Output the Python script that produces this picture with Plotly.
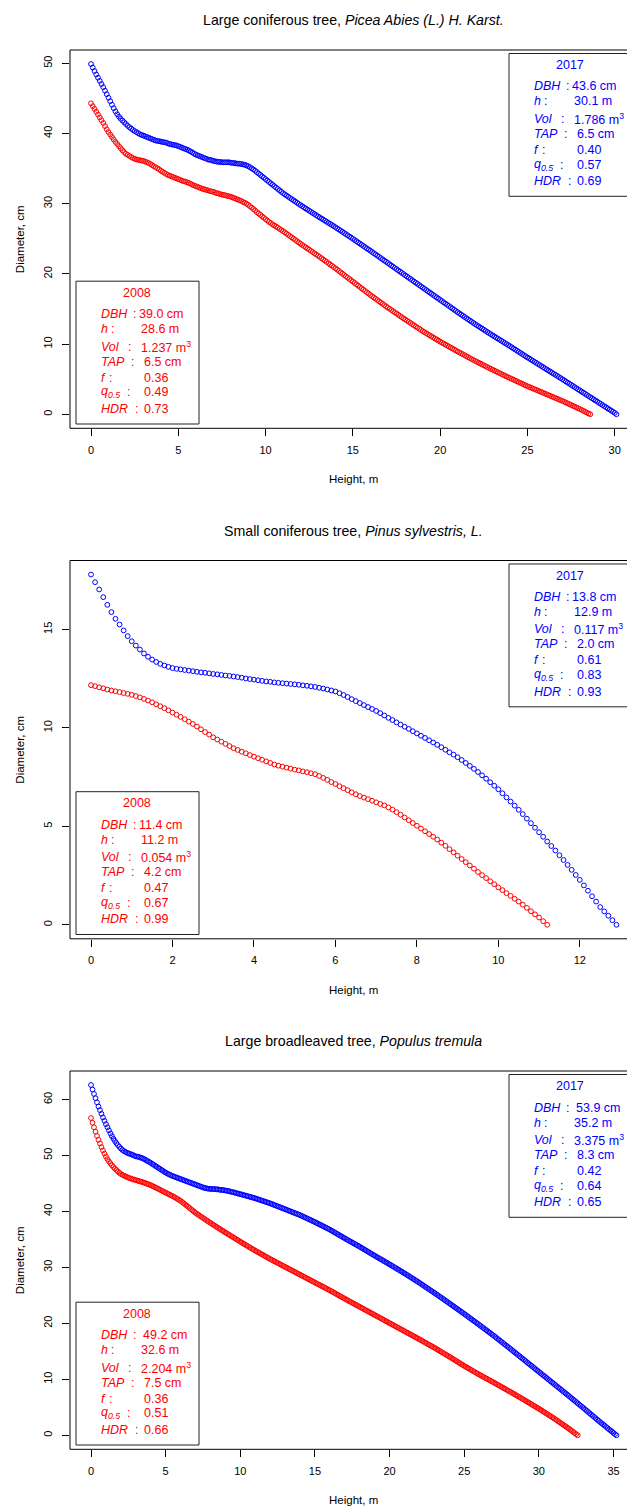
import plotly.graph_objects as go

W, H = 627, 1506
HEIGHT_STEP = 0.1  # stem profile sampling step along the height, m

# ---------------- data: stem diameters (cm) every 0.1 m from the ground ----------------
SPRUCE_2017 = [
    49.9, 49.4, 48.9, 48.4, 47.95, 47.5, 47.05, 46.6, 46.1, 45.6,
    45.1, 44.6, 44.1, 43.6, 43.15, 42.75, 42.4, 42.1, 41.85, 41.6,
    41.35, 41.1, 40.9, 40.7, 40.5, 40.35, 40.2, 40.05, 39.9, 39.8,
    39.7, 39.6, 39.5, 39.4, 39.3, 39.2, 39.1, 39.0, 38.95, 38.9,
    38.85, 38.8, 38.75, 38.7, 38.6, 38.5, 38.45, 38.4, 38.35, 38.3,
    38.2, 38.1, 38.0, 37.9, 37.8, 37.7, 37.6, 37.45, 37.3, 37.15,
    37.0, 36.9, 36.8, 36.7, 36.6, 36.5, 36.4, 36.3, 36.25, 36.2,
    36.1, 36.05, 36.0, 35.95, 35.95, 35.9, 35.9, 35.9, 35.9, 35.9,
    35.85, 35.8, 35.8, 35.75, 35.7, 35.7, 35.65, 35.6, 35.55, 35.45,
    35.35, 35.2, 35.05, 34.9, 34.7, 34.5, 34.3, 34.1, 33.9, 33.7,
    33.5, 33.3, 33.1, 32.9, 32.7, 32.5, 32.3, 32.1, 31.9, 31.7,
    31.5, 31.33, 31.16, 30.99, 30.82, 30.65, 30.48, 30.31, 30.14, 29.97,
    29.8, 29.64, 29.48, 29.32, 29.16, 29.0, 28.84, 28.68, 28.52, 28.36,
    28.2, 28.05, 27.89, 27.74, 27.58, 27.43, 27.27, 27.12, 26.96, 26.81,
    26.65, 26.49, 26.32, 26.16, 25.99, 25.83, 25.66, 25.5, 25.33, 25.17,
    25.0, 24.83, 24.66, 24.49, 24.32, 24.15, 23.98, 23.81, 23.64, 23.47,
    23.3, 23.13, 22.95, 22.78, 22.6, 22.43, 22.25, 22.08, 21.9, 21.73,
    21.55, 21.38, 21.2, 21.03, 20.85, 20.68, 20.5, 20.33, 20.15, 19.98,
    19.8, 19.63, 19.45, 19.28, 19.1, 18.93, 18.75, 18.58, 18.4, 18.23,
    18.05, 17.88, 17.7, 17.53, 17.35, 17.18, 17.0, 16.83, 16.65, 16.48,
    16.3, 16.13, 15.95, 15.78, 15.6, 15.43, 15.25, 15.08, 14.9, 14.73,
    14.55, 14.38, 14.21, 14.04, 13.87, 13.7, 13.53, 13.36, 13.19, 13.02,
    12.85, 12.69, 12.53, 12.37, 12.21, 12.05, 11.89, 11.73, 11.57, 11.41,
    11.25, 11.1, 10.94, 10.79, 10.63, 10.48, 10.32, 10.17, 10.01, 9.86,
    9.7, 9.54, 9.38, 9.22, 9.06, 8.9, 8.74, 8.58, 8.42, 8.26,
    8.1, 7.95, 7.79, 7.64, 7.48, 7.33, 7.17, 7.02, 6.86, 6.71,
    6.55, 6.4, 6.24, 6.09, 5.93, 5.78, 5.62, 5.47, 5.31, 5.16,
    5.0, 4.84, 4.68, 4.52, 4.36, 4.2, 4.04, 3.88, 3.72, 3.56,
    3.4, 3.24, 3.08, 2.92, 2.76, 2.6, 2.44, 2.28, 2.12, 1.96,
    1.8, 1.64, 1.48, 1.32, 1.16, 1.0, 0.84, 0.68, 0.52, 0.36,
    0.2, 0.0,
]
SPRUCE_2008 = [
    44.3, 43.9, 43.5, 43.1, 42.7, 42.3, 41.9, 41.5, 41.05, 40.6,
    40.2, 39.85, 39.5, 39.15, 38.8, 38.5, 38.2, 37.9, 37.6, 37.35,
    37.1, 36.95, 36.8, 36.65, 36.5, 36.4, 36.3, 36.25, 36.2, 36.15,
    36.1, 36.0, 35.9, 35.8, 35.65, 35.5, 35.35, 35.2, 35.05, 34.9,
    34.7, 34.55, 34.4, 34.25, 34.1, 34.0, 33.9, 33.8, 33.7, 33.6,
    33.5, 33.4, 33.3, 33.2, 33.15, 33.05, 32.95, 32.85, 32.7, 32.6,
    32.5, 32.4, 32.3, 32.2, 32.1, 32.05, 31.95, 31.9, 31.8, 31.75,
    31.7, 31.6, 31.5, 31.45, 31.35, 31.3, 31.25, 31.2, 31.1, 31.05,
    31.0, 30.9, 30.8, 30.7, 30.6, 30.5, 30.4, 30.25, 30.15, 30.0,
    29.85, 29.65, 29.45, 29.25, 29.05, 28.8, 28.6, 28.4, 28.2, 28.0,
    27.8, 27.6, 27.4, 27.25, 27.05, 26.9, 26.75, 26.6, 26.4, 26.25,
    26.1, 25.92, 25.74, 25.56, 25.38, 25.2, 25.02, 24.84, 24.66, 24.48,
    24.3, 24.13, 23.96, 23.79, 23.62, 23.45, 23.28, 23.11, 22.94, 22.77,
    22.6, 22.42, 22.24, 22.06, 21.88, 21.7, 21.52, 21.34, 21.16, 20.98,
    20.8, 20.61, 20.42, 20.23, 20.04, 19.85, 19.66, 19.47, 19.28, 19.09,
    18.9, 18.71, 18.52, 18.33, 18.14, 17.95, 17.76, 17.57, 17.38, 17.19,
    17.0, 16.82, 16.64, 16.46, 16.28, 16.1, 15.92, 15.74, 15.56, 15.38,
    15.2, 15.03, 14.86, 14.69, 14.52, 14.35, 14.18, 14.01, 13.84, 13.67,
    13.5, 13.34, 13.17, 13.01, 12.84, 12.68, 12.51, 12.35, 12.18, 12.02,
    11.85, 11.7, 11.55, 11.4, 11.25, 11.1, 10.95, 10.8, 10.65, 10.5,
    10.35, 10.21, 10.07, 9.93, 9.79, 9.65, 9.51, 9.37, 9.23, 9.09,
    8.95, 8.82, 8.68, 8.55, 8.41, 8.28, 8.14, 8.01, 7.87, 7.74,
    7.6, 7.48, 7.35, 7.23, 7.1, 6.98, 6.85, 6.73, 6.6, 6.48,
    6.35, 6.23, 6.11, 5.99, 5.87, 5.75, 5.63, 5.51, 5.39, 5.27,
    5.15, 5.04, 4.92, 4.81, 4.69, 4.58, 4.46, 4.35, 4.23, 4.12,
    4.0, 3.9, 3.79, 3.69, 3.58, 3.48, 3.37, 3.27, 3.16, 3.06,
    2.95, 2.85, 2.74, 2.64, 2.53, 2.43, 2.32, 2.22, 2.11, 2.01,
    1.9, 1.79, 1.67, 1.56, 1.44, 1.33, 1.21, 1.1, 0.98, 0.87,
    0.75, 0.63, 0.5, 0.37, 0.25, 0.12, 0.0,
]
PINE_2017 = [
    17.79, 17.40, 17.03, 16.64, 16.25, 15.88, 15.54, 15.25, 14.95, 14.66,
    14.40, 14.18, 13.98, 13.78, 13.61, 13.47, 13.35, 13.25, 13.17, 13.10,
    13.04, 13.0, 12.97, 12.94, 12.91, 12.88, 12.85, 12.82, 12.8, 12.77,
    12.74, 12.72, 12.69, 12.66, 12.64, 12.61, 12.58, 12.55, 12.51, 12.48,
    12.45, 12.42, 12.39, 12.36, 12.34, 12.31, 12.29, 12.27, 12.25, 12.23,
    12.21, 12.19, 12.16, 12.14, 12.11, 12.08, 12.04, 12.0, 11.95, 11.9,
    11.85, 11.76, 11.67, 11.57, 11.46, 11.36, 11.26, 11.16, 11.06, 10.96,
    10.86, 10.75, 10.63, 10.51, 10.4, 10.28, 10.17, 10.06, 9.95, 9.83,
    9.72, 9.6, 9.49, 9.37, 9.26, 9.14, 9.02, 8.89, 8.76, 8.64,
    8.51, 8.37, 8.22, 8.07, 7.92, 7.76, 7.59, 7.42, 7.24, 7.06,
    6.88, 6.68, 6.47, 6.26, 6.05, 5.84, 5.62, 5.39, 5.16, 4.93,
    4.7, 4.47, 4.23, 4.0, 3.77, 3.53, 3.29, 3.04, 2.79, 2.53,
    2.28, 2.0, 1.73, 1.45, 1.18, 0.9, 0.68, 0.46, 0.23, 0.0,
]
PINE_2008 = [
    12.17, 12.12, 12.06, 12.01, 11.95, 11.9, 11.86, 11.82, 11.77, 11.73,
    11.68, 11.62, 11.55, 11.47, 11.39, 11.3, 11.2, 11.1, 11.0, 10.89,
    10.78, 10.67, 10.56, 10.44, 10.32, 10.2, 10.07, 9.93, 9.79, 9.66,
    9.52, 9.41, 9.3, 9.19, 9.08, 8.97, 8.88, 8.79, 8.71, 8.62,
    8.54, 8.46, 8.38, 8.3, 8.22, 8.14, 8.08, 8.03, 7.98, 7.93,
    7.88, 7.84, 7.79, 7.75, 7.7, 7.65, 7.56, 7.46, 7.36, 7.25,
    7.15, 7.04, 6.94, 6.84, 6.73, 6.63, 6.54, 6.46, 6.38, 6.3,
    6.22, 6.14, 6.06, 5.96, 5.85, 5.72, 5.59, 5.45, 5.31, 5.17,
    5.03, 4.89, 4.75, 4.61, 4.47, 4.33, 4.17, 4.01, 3.84, 3.68,
    3.51, 3.34, 3.18, 3.01, 2.85, 2.68, 2.52, 2.37, 2.21, 2.06,
    1.9, 1.76, 1.61, 1.47, 1.32, 1.18, 1.02, 0.86, 0.69, 0.53,
    0.37, 0.18, 0.0,
]
ASPEN_2017 = [
    62.6, 61.8, 61.0, 60.25, 59.5, 58.75, 58.1, 57.45, 56.8, 56.2,
    55.6, 55.05, 54.5, 53.95, 53.45, 53.0, 52.6, 52.2, 51.85, 51.55,
    51.25, 51.0, 50.8, 50.65, 50.5, 50.4, 50.3, 50.2, 50.1, 49.95,
    49.85, 49.8, 49.75, 49.65, 49.55, 49.45, 49.3, 49.15, 49.0, 48.85,
    48.7, 48.5, 48.35, 48.15, 48.0, 47.8, 47.65, 47.45, 47.3, 47.1,
    46.95, 46.8, 46.65, 46.55, 46.4, 46.3, 46.2, 46.1, 46.0, 45.9,
    45.8, 45.7, 45.6, 45.5, 45.4, 45.3, 45.2, 45.1, 45.0, 44.9,
    44.8, 44.7, 44.6, 44.5, 44.4, 44.3, 44.2, 44.15, 44.1, 44.05,
    44.05, 44.0, 44.0, 44.0, 43.95, 43.95, 43.9, 43.85, 43.85, 43.8,
    43.75, 43.7, 43.65, 43.6, 43.5, 43.45, 43.4, 43.3, 43.25, 43.15,
    43.1, 43.03, 42.95, 42.88, 42.8, 42.73, 42.65, 42.58, 42.5, 42.43,
    42.35, 42.26, 42.17, 42.08, 41.99, 41.9, 41.81, 41.72, 41.63, 41.54,
    41.45, 41.35, 41.24, 41.14, 41.03, 40.93, 40.82, 40.72, 40.61, 40.51,
    40.4, 40.3, 40.19, 40.09, 39.98, 39.88, 39.77, 39.67, 39.56, 39.46,
    39.35, 39.23, 39.1, 38.98, 38.85, 38.73, 38.6, 38.48, 38.35, 38.23,
    38.1, 37.97, 37.83, 37.7, 37.56, 37.43, 37.29, 37.16, 37.02, 36.89,
    36.75, 36.6, 36.44, 36.29, 36.13, 35.98, 35.82, 35.67, 35.51, 35.36,
    35.2, 35.05, 34.9, 34.75, 34.6, 34.45, 34.3, 34.15, 34.0, 33.85,
    33.7, 33.54, 33.38, 33.22, 33.06, 32.9, 32.74, 32.58, 32.42, 32.26,
    32.1, 31.95, 31.79, 31.64, 31.48, 31.33, 31.17, 31.02, 30.86, 30.71,
    30.55, 30.39, 30.23, 30.07, 29.91, 29.75, 29.59, 29.43, 29.27, 29.11,
    28.95, 28.78, 28.61, 28.44, 28.27, 28.1, 27.93, 27.76, 27.59, 27.42,
    27.25, 27.07, 26.89, 26.71, 26.53, 26.35, 26.17, 25.99, 25.81, 25.63,
    25.45, 25.27, 25.08, 24.9, 24.71, 24.53, 24.34, 24.16, 23.97, 23.79,
    23.6, 23.41, 23.22, 23.03, 22.84, 22.65, 22.46, 22.27, 22.08, 21.89,
    21.7, 21.51, 21.31, 21.12, 20.92, 20.73, 20.53, 20.34, 20.14, 19.95,
    19.75, 19.55, 19.35, 19.15, 18.95, 18.75, 18.55, 18.35, 18.15, 17.95,
    17.75, 17.54, 17.33, 17.12, 16.91, 16.7, 16.49, 16.28, 16.07, 15.86,
    15.65, 15.44, 15.22, 15.01, 14.79, 14.58, 14.36, 14.15, 13.93, 13.72,
    13.5, 13.29, 13.07, 12.86, 12.64, 12.43, 12.21, 12.0, 11.78, 11.57,
    11.35, 11.14, 10.92, 10.71, 10.49, 10.28, 10.06, 9.85, 9.63, 9.42,
    9.2, 8.99, 8.77, 8.56, 8.34, 8.13, 7.91, 7.7, 7.48, 7.27,
    7.05, 6.83, 6.61, 6.39, 6.17, 5.95, 5.73, 5.51, 5.29, 5.07,
    4.85, 4.63, 4.4, 4.18, 3.95, 3.73, 3.5, 3.28, 3.05, 2.83,
    2.6, 2.38, 2.16, 1.95, 1.73, 1.51, 1.29, 1.07, 0.86, 0.64,
    0.42, 0.2, 0.0,
]
ASPEN_2008 = [
    56.7, 55.85, 55.05, 54.25, 53.5, 52.8, 52.15, 51.5, 50.9, 50.35,
    49.8, 49.35, 48.95, 48.6, 48.25, 47.95, 47.65, 47.4, 47.15, 46.9,
    46.7, 46.55, 46.4, 46.3, 46.15, 46.05, 45.95, 45.85, 45.75, 45.7,
    45.6, 45.52, 45.44, 45.36, 45.28, 45.2, 45.1, 45.0, 44.9, 44.8,
    44.7, 44.57, 44.44, 44.31, 44.18, 44.05, 43.91, 43.77, 43.63, 43.49,
    43.35, 43.22, 43.09, 42.96, 42.83, 42.7, 42.54, 42.38, 42.22, 42.06,
    41.9, 41.69, 41.48, 41.27, 41.06, 40.85, 40.63, 40.41, 40.19, 39.97,
    39.75, 39.57, 39.39, 39.21, 39.03, 38.85, 38.67, 38.49, 38.31, 38.13,
    37.95, 37.78, 37.61, 37.44, 37.27, 37.1, 36.93, 36.76, 36.59, 36.42,
    36.25, 36.09, 35.92, 35.76, 35.59, 35.43, 35.26, 35.1, 34.93, 34.77,
    34.6, 34.44, 34.28, 34.12, 33.96, 33.8, 33.64, 33.48, 33.32, 33.16,
    33.0, 32.85, 32.7, 32.55, 32.4, 32.25, 32.1, 31.95, 31.8, 31.65,
    31.5, 31.36, 31.22, 31.08, 30.94, 30.8, 30.66, 30.52, 30.38, 30.24,
    30.1, 29.96, 29.82, 29.68, 29.54, 29.4, 29.26, 29.12, 28.98, 28.84,
    28.7, 28.56, 28.42, 28.28, 28.14, 28.0, 27.86, 27.72, 27.58, 27.44,
    27.3, 27.16, 27.02, 26.88, 26.74, 26.6, 26.46, 26.32, 26.18, 26.04,
    25.9, 25.75, 25.6, 25.45, 25.3, 25.15, 25.0, 24.85, 24.7, 24.55,
    24.4, 24.26, 24.11, 23.97, 23.82, 23.68, 23.53, 23.39, 23.24, 23.1,
    22.95, 22.81, 22.66, 22.52, 22.37, 22.23, 22.08, 21.94, 21.79, 21.65,
    21.5, 21.36, 21.21, 21.07, 20.92, 20.78, 20.63, 20.49, 20.34, 20.2,
    20.05, 19.91, 19.76, 19.62, 19.47, 19.33, 19.18, 19.04, 18.89, 18.75,
    18.6, 18.46, 18.31, 18.17, 18.02, 17.88, 17.73, 17.59, 17.44, 17.3,
    17.15, 17.0, 16.85, 16.7, 16.55, 16.4, 16.25, 16.1, 15.95, 15.8,
    15.65, 15.49, 15.33, 15.17, 15.01, 14.85, 14.69, 14.53, 14.37, 14.21,
    14.05, 13.89, 13.72, 13.56, 13.39, 13.23, 13.06, 12.9, 12.73, 12.57,
    12.4, 12.25, 12.09, 11.94, 11.78, 11.63, 11.47, 11.32, 11.16, 11.01,
    10.85, 10.71, 10.56, 10.42, 10.27, 10.13, 9.98, 9.84, 9.69, 9.55,
    9.4, 9.25, 9.1, 8.95, 8.8, 8.65, 8.5, 8.35, 8.2, 8.05,
    7.9, 7.75, 7.59, 7.44, 7.28, 7.13, 6.97, 6.82, 6.66, 6.51,
    6.35, 6.19, 6.03, 5.87, 5.71, 5.55, 5.39, 5.23, 5.07, 4.91,
    4.75, 4.58, 4.41, 4.24, 4.07, 3.9, 3.73, 3.56, 3.39, 3.22,
    3.05, 2.87, 2.68, 2.5, 2.31, 2.13, 1.94, 1.76, 1.57, 1.39,
    1.2, 1.0, 0.8, 0.6, 0.4, 0.2, 0.0,
]

TITLES_PLAIN = ["Large coniferous tree, ", "Small coniferous tree, ", "Large broadleaved tree, "]
TITLES_ITALIC = ["Picea Abies (L.) H. Karst.", "Pinus sylvestris, L.", "Populus tremula"]
YEARS = ["2008", "2017"]
# stats per panel: [DBH cm, h m, Vol m3, TAP cm, f, q0.5, HDR]
STATS_2008 = [[39.0, 28.6, 1.237, 6.5, 0.36, 0.49, 0.73],
              [11.4, 11.2, 0.054, 4.2, 0.47, 0.67, 0.99],
              [49.2, 32.6, 2.204, 7.5, 0.36, 0.51, 0.66]]
STATS_2017 = [[43.6, 30.1, 1.786, 6.5, 0.40, 0.57, 0.69],
              [13.8, 12.9, 0.117, 2.0, 0.61, 0.83, 0.93],
              [53.9, 35.2, 3.375, 8.3, 0.42, 0.64, 0.65]]
X_TICKS = [[0, 5, 10, 15, 20, 25, 30], [0, 2, 4, 6, 8, 10, 12], [0, 5, 10, 15, 20, 25, 30, 35]]
Y_TICKS = [[0, 10, 20, 30, 40, 50], [0, 5, 10, 15], [0, 10, 20, 30, 40, 50, 60]]
SERIES = [(SPRUCE_2008, SPRUCE_2017), (PINE_2008, PINE_2017), (ASPEN_2008, ASPEN_2017)]
X_LABEL = "Height, m"
Y_LABEL = "Diameter, cm"

# ---------------- styling / layout ----------------
FONT = "Liberation Sans, Arial, sans-serif"
RED, BLUE = "#FF0000", "#0000FF"
PLOT_L, R_RIGHT = 70.0, 637.5      # R plot region (right edge is cropped off the image)
PANEL_TOP = [50.0, 560.5, 1071.0]
PANEL_H = 378.3
BOX_W, BOX_H = 123.0, 142.8
ROW_DY = [33.0, 48.0, 65.3, 80.3, 96.3, 111.0, 127.7]
LBL_DX = 24.0
COLON_DX = [56.0, 34.0, 51.0, 54.0, 32.0, 50.0, 58.0]
VALUE_DX = [62.0, 64.0, 64.0, 67.0, 67.0, 66.5, 66.5]
LABELS = ["<i>DBH</i>", "<i>h</i>", "<i>Vol</i>", "<i>TAP</i>", "<i>f</i>",
          "<i>q</i><sub><i>0.5</i></sub>", "<i>HDR</i>"]
MS = 4.8


def px(xp):
    return xp / W


def py(yp):
    return 1 - yp / H


def fmt_values(s):
    return [f"{s[0]:.1f} cm", f"{s[1]:.1f} m", f"{s[2]:.3f} m<sup>3</sup>", f"{s[3]:.1f} cm",
            f"{s[4]:.2f}", f"{s[5]:.2f}", f"{s[6]:.2f}"]


fig = go.Figure()
shapes, annotations = [], []
layout_axes = {}

for i in range(3):
    n = i + 1
    xa = "x" if n == 1 else f"x{n}"
    ya = "y" if n == 1 else f"y{n}"
    top = PANEL_TOP[i]
    bot = top + PANEL_H
    d08, d17 = SERIES[i]
    for d, col in ((d08, RED), (d17, BLUE)):
        hts = [round(k * HEIGHT_STEP, 1) for k in range(len(d))]
        fig.add_trace(go.Scatter(
            x=hts, y=d, mode="markers", xaxis=xa, yaxis=ya, showlegend=False, hoverinfo="skip",
            marker=dict(symbol="circle-open", size=MS, color=col, line=dict(width=1, color=col))))
    hmax = round((max(len(d08), len(d17)) - 1) * HEIGHT_STEP, 1)
    dmax = max(max(d08), max(d17))
    xlo, xhi = -0.04 * hmax, 1.04 * hmax
    xvis = xlo + (xhi - xlo) * (W - PLOT_L) / (R_RIGHT - PLOT_L)
    ylo, yhi = -0.04 * dmax, 1.04 * dmax
    axis_common = dict(showgrid=False, zeroline=False, showline=False, ticks="outside",
                       ticklen=7, tickwidth=1, tickcolor="#000",
                       tickfont=dict(family=FONT, size=11, color="#000"))
    layout_axes["xaxis" if n == 1 else f"xaxis{n}"] = dict(
        domain=[px(PLOT_L), 1.0], range=[xlo, xvis], anchor=ya, tickvals=X_TICKS[i],
        ticklabelstandoff=4, **axis_common)
    layout_axes["yaxis" if n == 1 else f"yaxis{n}"] = dict(
        domain=[py(bot), py(top)], range=[ylo, yhi], anchor=xa, tickvals=Y_TICKS[i],
        tickangle=-90, ticklabelstandoff=6, **axis_common)

    # plot frame
    shapes.append(dict(type="rect", xref="paper", yref="paper", x0=px(PLOT_L), x1=px(R_RIGHT),
                       y0=py(bot), y1=py(top), line=dict(color="#000", width=1)))
    # title and axis labels
    mid = (PLOT_L + R_RIGHT) / 2
    annotations.append(dict(xref="paper", yref="paper", x=px(mid), y=py(top - 30),
                            text=TITLES_PLAIN[i] + "<i>" + TITLES_ITALIC[i] + "</i>", showarrow=False,
                            xanchor="center", yanchor="middle", font=dict(family=FONT, size=14.2, color="#000")))
    annotations.append(dict(xref="paper", yref="paper", x=px(mid), y=py(bot + 50.8), text=X_LABEL,
                            showarrow=False, xanchor="center", yanchor="middle",
                            font=dict(family=FONT, size=11.5, color="#000")))
    annotations.append(dict(xref="paper", yref="paper", x=px(20), y=py((top + bot) / 2), text=Y_LABEL,
                            showarrow=False, xanchor="center", yanchor="middle", textangle=-90,
                            font=dict(family=FONT, size=11.5, color="#000")))

    # legend boxes
    for year, stats, col, left, btop in (
            (YEARS[0], STATS_2008[i], RED, 76.0, bot - 4.3 - BOX_H),
            (YEARS[1], STATS_2017[i], BLUE, 509.0, top + 3.5)):
        shapes.append(dict(type="rect", xref="paper", yref="paper", x0=px(left), x1=px(left + BOX_W),
                           y0=py(btop + BOX_H), y1=py(btop), line=dict(color="#222", width=1),
                           fillcolor="white"))
        f = dict(family=FONT, size=12.5, color=col)
        annotations.append(dict(xref="paper", yref="paper", x=px(left + 61), y=py(btop + 11.6), text=year,
                                showarrow=False, xanchor="center", yanchor="middle", font=f))
        vals = fmt_values(stats)
        for r in range(7):
            yy = py(btop + ROW_DY[r])
            vdx = VALUE_DX[r] + (4 if (r == 0 and i == 2) else 0)
            for txt, dx in ((LABELS[r], LBL_DX), (":", COLON_DX[r]), (vals[r], vdx)):
                annotations.append(dict(xref="paper", yref="paper", x=px(left + dx), y=yy, text=txt,
                                        showarrow=False, xanchor="left", yanchor="middle", font=f,
                                        borderpad=0))

fig.update_layout(width=W, height=H, margin=dict(l=0, r=0, t=0, b=0), paper_bgcolor="white",
                  plot_bgcolor="white", showlegend=False, shapes=shapes, annotations=annotations,
                  font=dict(family=FONT, color="#000"), **layout_axes)
fig.write_html("out.html", config={"displayModeBar": False},
               post_script="document.body.style.margin='0';document.body.style.overflow='hidden';")
